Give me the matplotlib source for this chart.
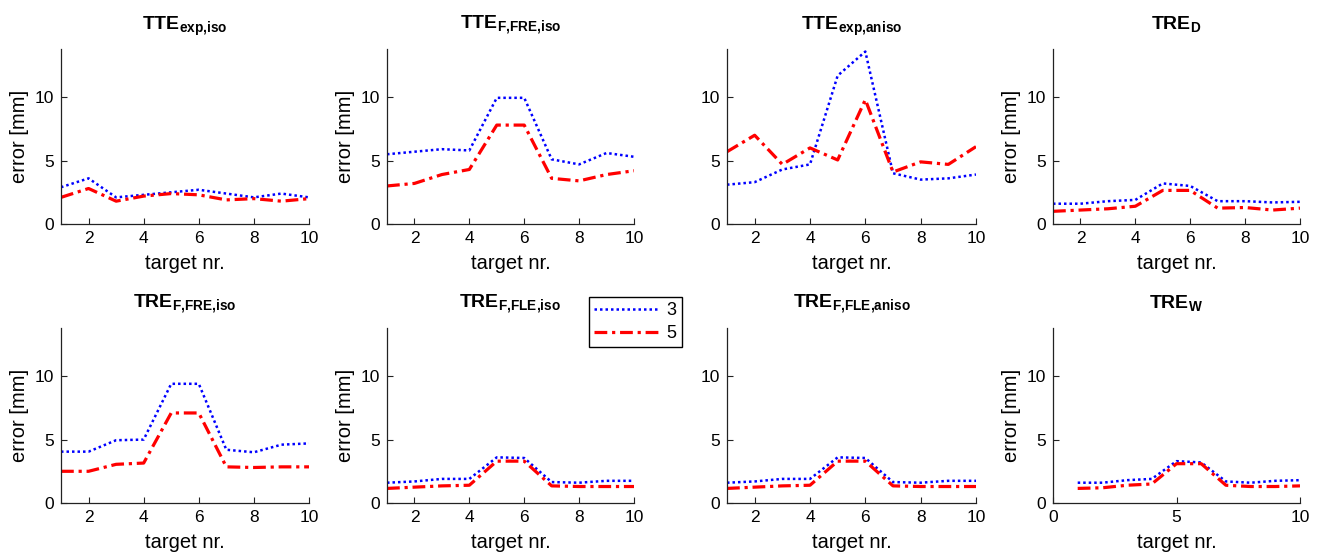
import numpy as np
import matplotlib
matplotlib.use('Agg')
import matplotlib.pyplot as plt

plt.rcParams['font.family'] = ['Liberation Sans', 'DejaVu Sans']
plt.rcParams['mathtext.fontset'] = 'custom'
plt.rcParams['mathtext.rm'] = 'Liberation Sans'
plt.rcParams['mathtext.bf'] = 'Liberation Sans:bold'

targets = np.arange(1, 11)

titles = [r'TTE$_{\mathbf{exp{,}iso}}$', r'TTE$_{\mathbf{F{,}FRE{,}iso}}$',
          r'TTE$_{\mathbf{exp{,}aniso}}$', r'TRE$_{\mathbf{D}}$',
          r'TRE$_{\mathbf{F{,}FRE{,}iso}}$', r'TRE$_{\mathbf{F{,}FLE{,}iso}}$',
          r'TRE$_{\mathbf{F{,}FLE{,}aniso}}$', r'TRE$_{\mathbf{W}}$']

# series "3" (blue dotted)
tte_exp_iso_3 = [2.9, 3.6, 2.1, 2.3, 2.5, 2.7, 2.4, 2.1, 2.4, 2.1]
tte_f_fre_iso_3 = [5.5, 5.7, 5.9, 5.8, 9.95, 9.95, 5.1, 4.7, 5.6, 5.3]
tte_exp_aniso_3 = [3.1, 3.3, 4.3, 4.7, 11.7, 13.6, 4.0, 3.5, 3.6, 3.9]
tre_d_3 = [1.6, 1.6, 1.8, 1.9, 3.2, 3.0, 1.8, 1.8, 1.7, 1.75]
tre_f_fre_iso_3 = [4.05, 4.05, 4.95, 5.0, 9.4, 9.4, 4.2, 4.0, 4.6, 4.7]
tre_f_fle_iso_3 = [1.6, 1.7, 1.9, 1.9, 3.6, 3.55, 1.65, 1.6, 1.75, 1.75]
tre_f_fle_aniso_3 = [1.6, 1.7, 1.9, 1.9, 3.6, 3.55, 1.65, 1.6, 1.75, 1.75]
tre_w_3 = [1.6, 1.6, 1.8, 1.9, 3.3, 3.2, 1.7, 1.6, 1.75, 1.8]

# series "5" (red dash-dot)
tte_exp_iso_5 = [2.1, 2.8, 1.8, 2.2, 2.4, 2.3, 1.9, 2.0, 1.8, 2.0]
tte_f_fre_iso_5 = [3.0, 3.2, 3.9, 4.3, 7.8, 7.8, 3.6, 3.4, 3.9, 4.2]
tte_exp_aniso_5 = [5.7, 7.0, 4.7, 6.0, 5.05, 9.8, 4.1, 4.9, 4.7, 6.1]
tre_d_5 = [1.0, 1.1, 1.2, 1.4, 2.65, 2.65, 1.25, 1.3, 1.1, 1.25]
tre_f_fre_iso_5 = [2.5, 2.5, 3.05, 3.15, 7.1, 7.1, 2.85, 2.8, 2.85, 2.85]
tre_f_fle_iso_5 = [1.15, 1.25, 1.35, 1.4, 3.3, 3.3, 1.35, 1.3, 1.3, 1.3]
tre_f_fle_aniso_5 = [1.15, 1.25, 1.35, 1.4, 3.3, 3.3, 1.35, 1.3, 1.3, 1.3]
tre_w_5 = [1.15, 1.2, 1.4, 1.5, 3.1, 3.1, 1.4, 1.3, 1.3, 1.35]

series3 = [tte_exp_iso_3, tte_f_fre_iso_3, tte_exp_aniso_3, tre_d_3,
           tre_f_fre_iso_3, tre_f_fle_iso_3, tre_f_fle_aniso_3, tre_w_3]
series5 = [tte_exp_iso_5, tte_f_fre_iso_5, tte_exp_aniso_5, tre_d_5,
           tre_f_fre_iso_5, tre_f_fle_iso_5, tre_f_fle_aniso_5, tre_w_5]

fig = plt.figure(figsize=(13.2, 5.58), dpi=100)

lefts = [61, 387, 727, 1053]
widths = [248, 247, 249, 247]
tops = [49, 328]
h = 175

lines = None
for i in range(8):
    r, c = divmod(i, 4)
    ax = fig.add_axes([lefts[c] / 1320, 1 - (tops[r] + h) / 558,
                       widths[c] / 1320, h / 558])
    l3, = ax.plot(targets, series3[i], color='#0000ff', lw=1.8,
                  dashes=(1, 1.2), label='3')
    l5, = ax.plot(targets, series5[i], color='#ff0000', lw=2.3,
                  dashes=(4, 1.5, 1, 1.5), label='5')
    lines = [l3, l5]
    ax.set_ylim(0, 13.8)
    ax.set_yticks([0, 5, 10])
    if i == 7:
        ax.set_xlim(0, 10)
        ax.set_xticks([0, 5, 10])
    else:
        ax.set_xlim(1, 10)
        ax.set_xticks([2, 4, 6, 8, 10])
    for s in ['top', 'right']:
        ax.spines[s].set_visible(False)
    for s in ['left', 'bottom']:
        ax.spines[s].set_color('#222222')
        ax.spines[s].set_linewidth(0.9)
    ax.tick_params(direction='in', length=4, labelsize=12.5, pad=5,
                   colors='#222222', labelcolor='black')
    ax.set_xlabel('target nr.', fontsize=14.5, labelpad=6)
    if c != 2:
        ax.set_ylabel('error [mm]', fontsize=14.5, labelpad=4)
    ax.set_title(titles[i], fontsize=14, fontweight='bold', pad=14)

fig.legend(lines, ['3', '5'], loc='upper left',
           bbox_to_anchor=(589 / 1320, 1 - 297 / 558), fontsize=13,
           handlelength=3.6, fancybox=False, edgecolor='black',
           framealpha=1, borderpad=0.3, labelspacing=0.3,
           handletextpad=0.4, borderaxespad=0)

fig.savefig('out.png', dpi=100)
